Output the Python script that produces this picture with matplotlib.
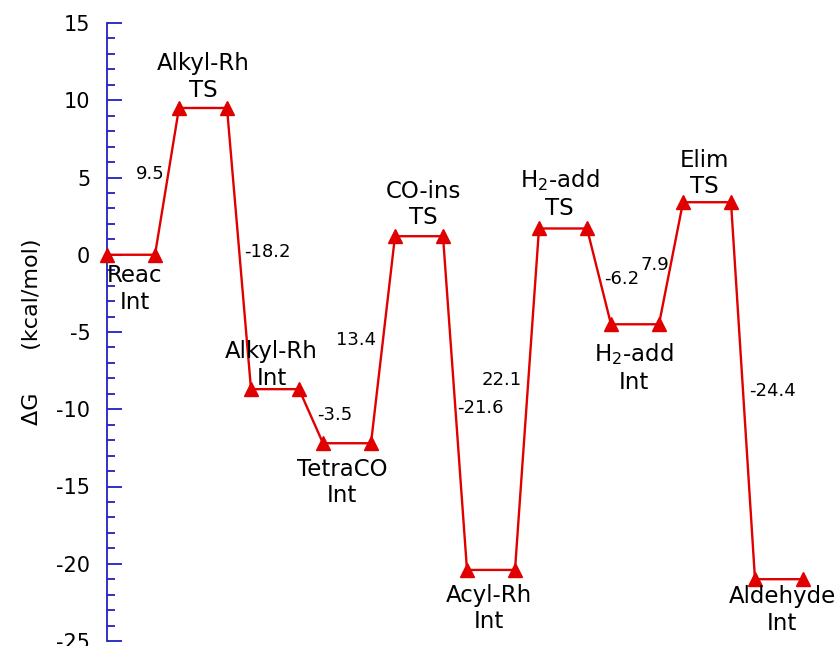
import numpy as np
import matplotlib.pyplot as plt
from matplotlib.ticker import MultipleLocator

# =========================
# DATA
# =========================
states = ['Reac\nInt', 'Alkyl-Rh\nTS', 'Alkyl-Rh\nInt', 'TetraCO\nInt',
          'CO-ins\nTS', 'Acyl-Rh\nInt', 'H$_2$-add\nTS', 'H$_2$-add\nInt',
          'Elim\nTS', 'Aldehyde\nInt']
start_energy = 0.0
steps = [9.5, -18.2, -3.5, 13.4, -21.6, 22.1, -6.2, 7.9, -24.4]
step_labels = ['9.5', '-18.2', '-3.5', '13.4', '-21.6', '22.1', '-6.2', '7.9', '-24.4']

# energy of every state = running sum of the steps
energies = np.concatenate([[start_energy], start_energy + np.cumsum(steps)])

# where the texts go (data coords)
state_label_pos = [(1.16, -2.2), (4.03, 11.5), (6.86, -7.15), (9.80, -14.75),
                   (13.17, 3.25), (15.91, -22.9), (18.86, 3.95), (21.94, -7.3),
                   (24.89, 5.25), (28.13, -23.0)]
step_label_pos = [(1.79, 5.2), (6.69, 0.2), (9.47, -10.4), (10.39, -5.55),
                  (15.54, -9.9), (16.45, -8.1), (21.44, -1.55), (22.81, -0.65),
                  (27.75, -8.85)]

plt.rcParams['font.family'] = ['DejaVu Sans']
plt.rcParams['mathtext.fontset'] = 'dejavusans'
plt.rcParams['axes.unicode_minus'] = False

# =========================
# PLOT
# =========================
fig = plt.figure(figsize=(8.38, 6.46), dpi=100)
ax = fig.add_axes([107 / 838, 5 / 646, 720 / 838, 618 / 646])

# each state is a plateau 2 wide, with a gap of 1 to the next
xs = []
ys = []
for i, e in enumerate(energies):
    xs += [3 * i, 3 * i + 2]
    ys += [e, e]

red = '#e00000'
ax.plot(xs, ys, color=red, lw=1.7, marker='^', ms=10.5, clip_on=False, zorder=3)

for (x, y), lab in zip(state_label_pos, states):
    ax.text(x, y, lab, ha='center', va='center', fontsize=16.5, linespacing=1.2)

for (x, y), lab in zip(step_label_pos, step_labels):
    ax.text(x, y, lab, ha='center', va='center', fontsize=13)

# =========================
# AXES
# =========================
ax.set_xlim(0, 30)
ax.set_ylim(-25, 15)
for side in ['top', 'right', 'bottom']:
    ax.spines[side].set_visible(False)
ax.spines['left'].set_color('#2020c0')
ax.spines['left'].set_linewidth(1.3)
ax.set_xticks([])
ax.yaxis.set_major_locator(MultipleLocator(5))
ax.yaxis.set_minor_locator(MultipleLocator(1))
ax.tick_params(axis='y', which='major', direction='in', length=11, width=1.3,
               color='#2020c0', labelsize=15, pad=12)
ax.tick_params(axis='y', which='minor', direction='in', length=6, width=1.3,
               color='#2020c0')
ax.set_ylabel('ΔG      (kcal/mol)', fontsize=16, labelpad=10)

fig.savefig('out.png', dpi=100)
